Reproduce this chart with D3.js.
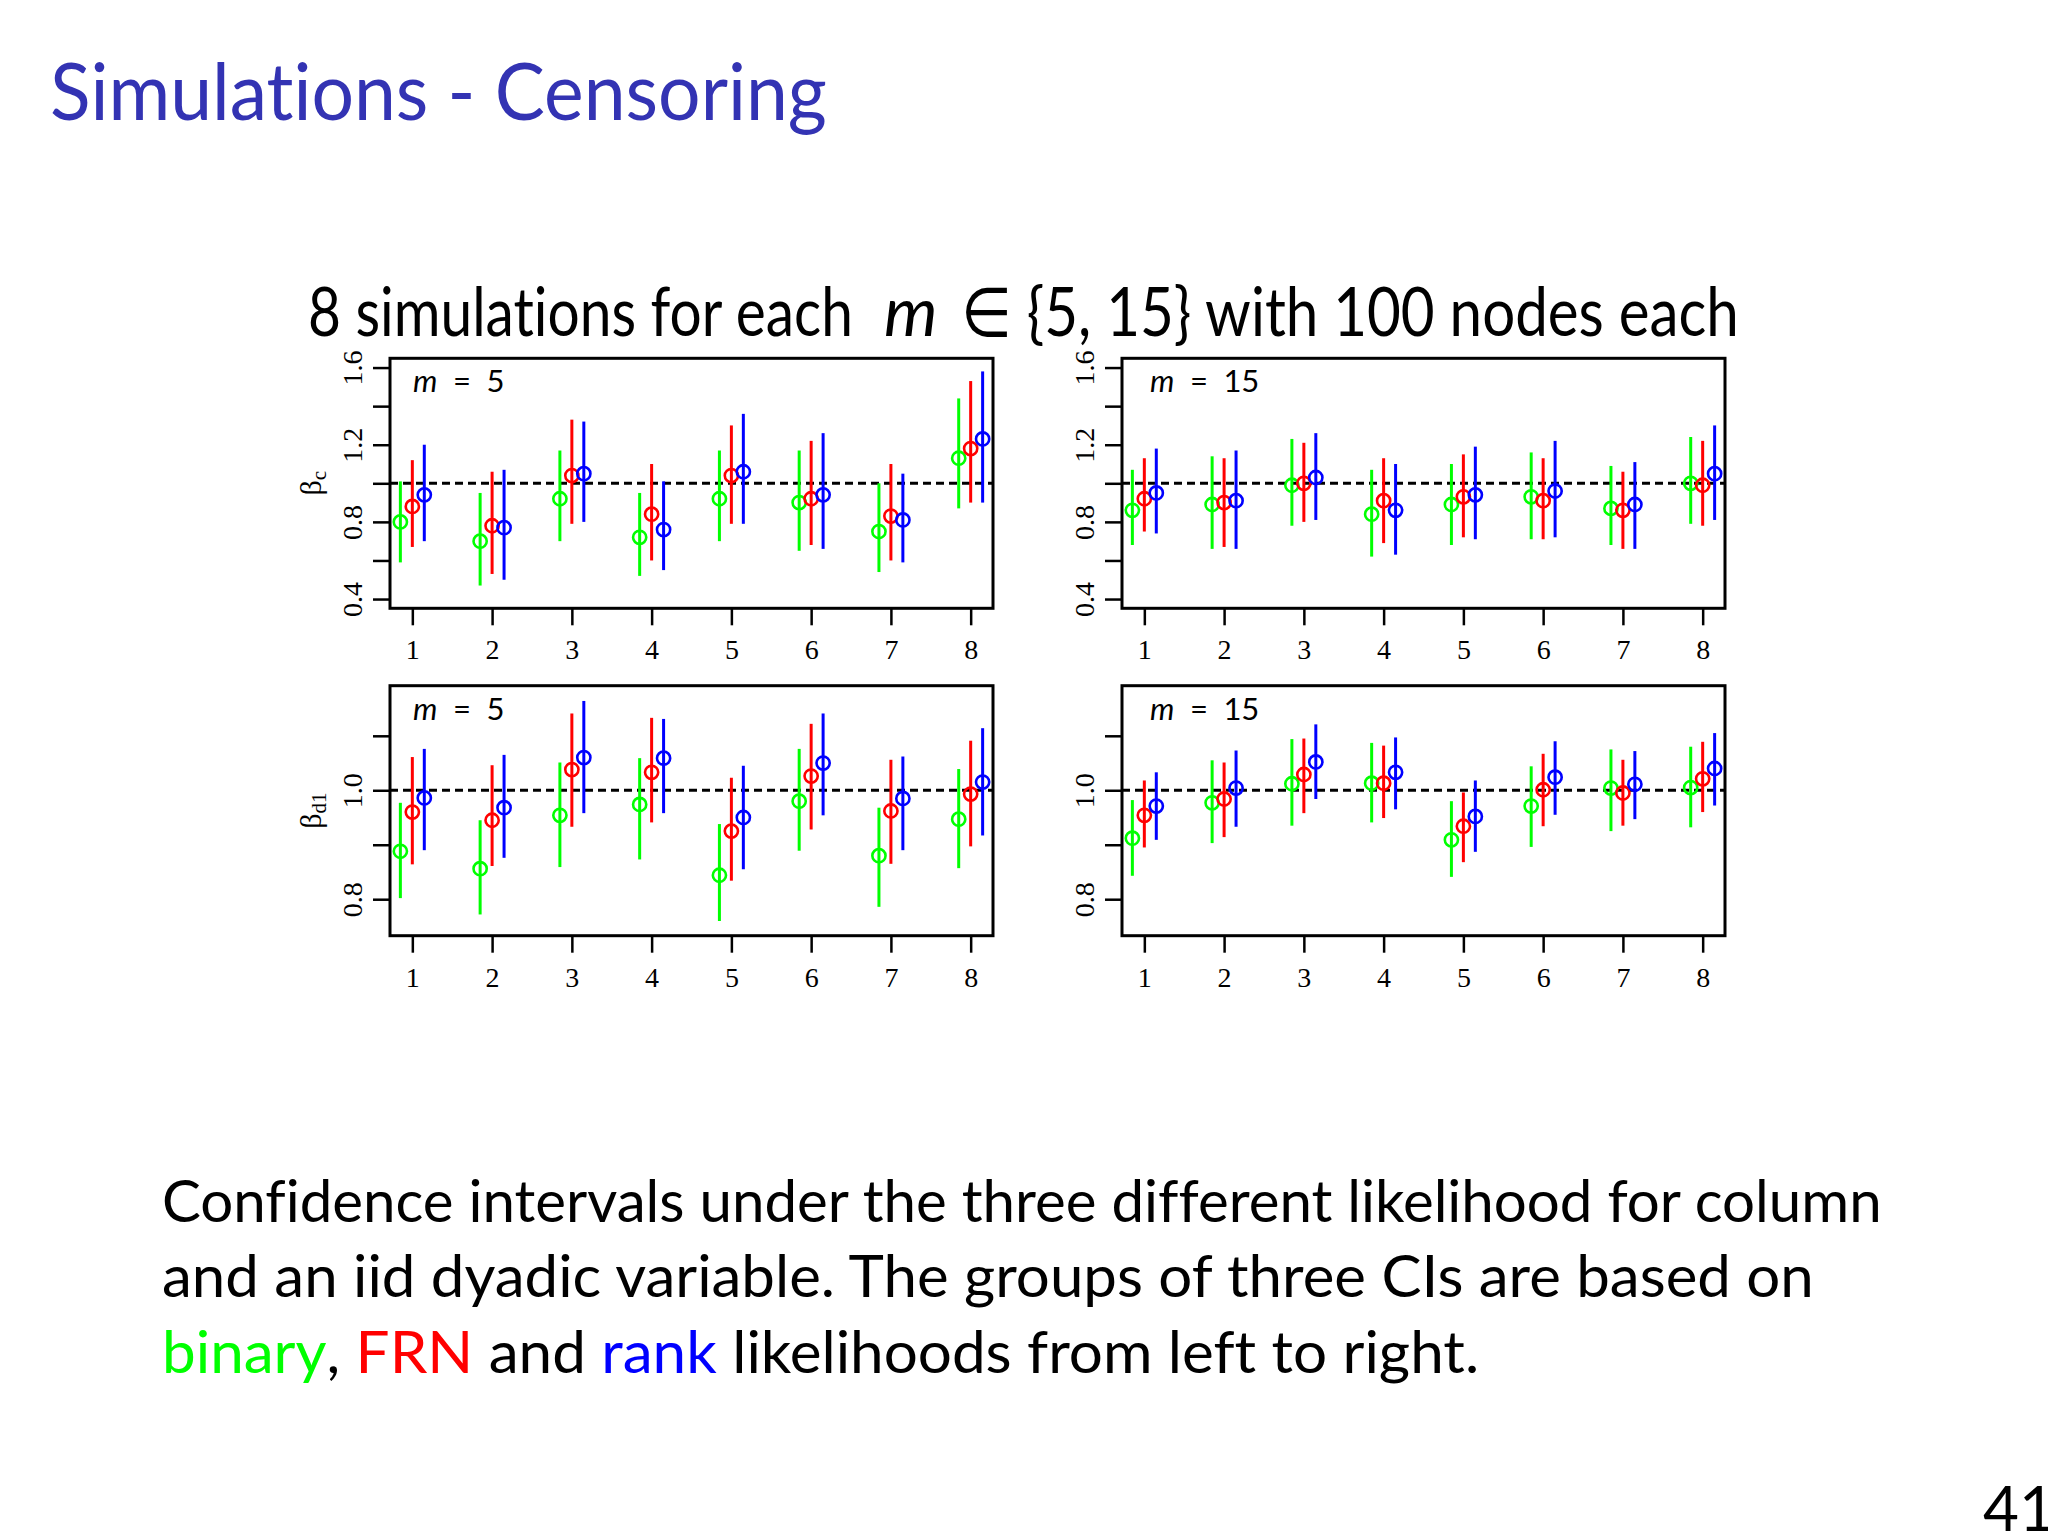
<!DOCTYPE html>
<html>
<head>
<meta charset="utf-8">
<script src="https://cdn.jsdelivr.net/npm/d3@7"></script>
<style>
    body { margin: 0; background: #fff; }
    svg { display: block; }
    .slide { font-family: Lato, "DejaVu Sans", sans-serif; font-variant-ligatures: none; font-feature-settings: "liga" 0, "dlig" 0; }
    .rtext { font-family: "Liberation Serif", "Times New Roman", serif; }
</style>
</head>
<body>
<svg id="chart" width="2048" height="1536"></svg>
<script>
// simulations on the x axis, likelihoods within each group
const simIds = [1, 2, 3, 4, 5, 6, 7, 8];
const methods = ["binary", "FRN", "rank"];
const mValues = [5, 15];

// rows = simulation, columns = binary / FRN / rank
// beta_c, m = 5
const betaC5Est = [[0.80,0.88,0.94],[0.70,0.78,0.77],[0.92,1.04,1.05],[0.72,0.84,0.76],[0.92,1.04,1.06],[0.90,0.92,0.94],[0.75,0.83,0.81],[1.13,1.18,1.23]];
const betaC5Lo  = [[0.59,0.67,0.70],[0.47,0.53,0.50],[0.70,0.79,0.80],[0.52,0.60,0.55],[0.70,0.79,0.79],[0.65,0.68,0.66],[0.54,0.60,0.59],[0.87,0.90,0.90]];
const betaC5Hi  = [[1.01,1.12,1.20],[0.95,1.06,1.07],[1.17,1.33,1.32],[0.95,1.10,1.01],[1.17,1.30,1.36],[1.17,1.22,1.26],[1.00,1.10,1.05],[1.44,1.53,1.58]];
// beta_c, m = 15
const betaC15Est = [[0.86,0.92,0.95],[0.89,0.90,0.91],[0.99,1.00,1.03],[0.84,0.91,0.86],[0.89,0.93,0.94],[0.93,0.91,0.96],[0.87,0.86,0.89],[1.00,0.99,1.05]];
const betaC15Lo  = [[0.68,0.75,0.74],[0.66,0.67,0.66],[0.78,0.80,0.81],[0.62,0.69,0.63],[0.68,0.72,0.71],[0.71,0.71,0.72],[0.68,0.66,0.66],[0.79,0.78,0.81]];
const betaC15Hi  = [[1.07,1.13,1.18],[1.14,1.13,1.17],[1.23,1.21,1.26],[1.07,1.13,1.10],[1.10,1.15,1.19],[1.16,1.13,1.22],[1.09,1.06,1.11],[1.24,1.22,1.30]];
// beta_d1, m = 5
const betaD5Est = [[0.888,0.960,0.986],[0.856,0.945,0.968],[0.954,1.038,1.060],[0.974,1.033,1.059],[0.844,0.925,0.950],[0.980,1.026,1.050],[0.880,0.962,0.985],[0.947,0.993,1.015]];
const betaD5Lo  = [[0.802,0.864,0.890],[0.772,0.861,0.876],[0.859,0.933,0.958],[0.873,0.941,0.958],[0.760,0.834,0.855],[0.889,0.928,0.954],[0.786,0.865,0.890],[0.857,0.897,0.917]];
const betaD5Hi  = [[0.977,1.061,1.076],[0.945,1.046,1.065],[1.051,1.141,1.164],[1.059,1.133,1.131],[0.938,1.023,1.045],[1.076,1.122,1.141],[0.968,1.056,1.062],[1.039,1.091,1.114]];
// beta_d1, m = 15
const betaD15Est = [[0.912,0.954,0.971],[0.977,0.984,1.004],[1.012,1.029,1.052],[1.013,1.013,1.033],[0.909,0.934,0.952],[0.971,1.001,1.024],[1.004,0.995,1.011],[1.005,1.021,1.040]];
const betaD15Lo  = [[0.843,0.895,0.909],[0.903,0.914,0.933],[0.935,0.958,0.984],[0.941,0.949,0.965],[0.841,0.868,0.887],[0.896,0.934,0.955],[0.925,0.935,0.947],[0.932,0.960,0.972]];
const betaD15Hi  = [[0.982,1.018,1.033],[1.055,1.051,1.073],[1.094,1.095,1.121],[1.087,1.082,1.097],[0.980,0.996,1.018],[1.044,1.067,1.090],[1.075,1.056,1.072],[1.080,1.089,1.105]];

// axes
const betaCLim = [0.4, 1.6];
const betaCTicks = [0.4, 0.6, 0.8, 1.0, 1.2, 1.4, 1.6];
const betaCTickLabels = ["0.4", "", "0.8", "", "1.2", "", "1.6"];
const betaDLim = [0.75, 1.175];
const betaDTicks = [0.8, 0.9, 1.0, 1.1];
const betaDTickLabels = ["0.8", "", "1.0", ""];
const simLabels = ["1", "2", "3", "4", "5", "6", "7", "8"];
const trueValue = 1.0;

const colours = ["#00ff00", "#ff0000", "#0000ff"];
const offsets = [-0.15, 0, 0.15];

const svg = d3.select("#chart");
svg.append("rect").attr("width", 2048).attr("height", 1536).attr("fill", "#fff");

// squeeze a text horizontally so it spans the wanted width
function fitWidth(sel, x, y, width) {
    const w = sel.node().getComputedTextLength();
    sel.attr("x", 0).attr("y", 0)
        .attr("transform", `translate(${x},${y}) scale(${width / w},1)`);
    return sel;
}

// slide text
fitWidth(svg.append("text").attr("class", "slide")
    .attr("font-size", 80).attr("fill", "#3333b3")
    .text("Simulations - Censoring"), 50, 120, 777);

fitWidth(svg.append("text").attr("class", "slide")
    .attr("font-size", 68).attr("fill", "#000")
    .text("8 simulations for each"), 308, 336, 545);
svg.append("text").attr("class", "slide")
    .attr("x", 884).attr("y", 336)
    .attr("font-size", 68).attr("font-style", "italic").attr("fill", "#000")
    .text("m");
fitWidth(svg.append("text").attr("class", "slide")
    .attr("font-size", 68).attr("fill", "#000")
    .text("\u2208 {" + mValues.join(", ") + "} with 100 nodes each"), 961, 336, 778);

const panels = [
    { est: betaC5Est, lo: betaC5Lo, hi: betaC5Hi, lim: betaCLim, ticks: betaCTicks, labels: betaCTickLabels, m: mValues[0], left: 390, top: 358.3, ylab: "c" },
    { est: betaC15Est, lo: betaC15Lo, hi: betaC15Hi, lim: betaCLim, ticks: betaCTicks, labels: betaCTickLabels, m: mValues[1], left: 1122, top: 358.3, ylab: null },
    { est: betaD5Est, lo: betaD5Lo, hi: betaD5Hi, lim: betaDLim, ticks: betaDTicks, labels: betaDTickLabels, m: mValues[0], left: 390, top: 685.7, ylab: "d1" },
    { est: betaD15Est, lo: betaD15Lo, hi: betaD15Hi, lim: betaDLim, ticks: betaDTicks, labels: betaDTickLabels, m: mValues[1], left: 1122, top: 685.7, ylab: null }
];
const pw = 603, ph = 250;

panels.forEach(p => {
    const g = svg.append("g").attr("transform", `translate(${p.left},${p.top})`);

    // R style 4% padding
    const xPad = (simIds[simIds.length - 1] - simIds[0]) * 0.04;
    const x = d3.scaleLinear().domain([simIds[0] - xPad, simIds[simIds.length - 1] + xPad]).range([0, pw]);
    const yPad = (p.lim[1] - p.lim[0]) * 0.04;
    const y = d3.scaleLinear().domain([p.lim[0] - yPad, p.lim[1] + yPad]).range([ph, 0]);

    // axes
    const yAxis = g.append("g").attr("class", "rtext")
        .call(d3.axisLeft(y).tickValues(p.ticks).tickSize(17).tickSizeOuter(0)
            .tickFormat((d, i) => p.labels[i]));
    yAxis.select(".domain").remove();
    yAxis.selectAll("line").attr("stroke", "#000").attr("stroke-width", 2.5);
    yAxis.selectAll("text")
        .attr("font-size", 28).attr("fill", "#000")
        .attr("text-anchor", "middle")
        .attr("x", 0).attr("y", -28).attr("dy", 0)
        .attr("transform", "rotate(-90)");

    const xAxis = g.append("g").attr("class", "rtext")
        .attr("transform", `translate(0,${ph})`)
        .call(d3.axisBottom(x).tickValues(simIds).tickSize(17).tickSizeOuter(0)
            .tickFormat((d, i) => simLabels[i]));
    xAxis.select(".domain").remove();
    xAxis.selectAll("line").attr("stroke", "#000").attr("stroke-width", 2.5);
    xAxis.selectAll("text")
        .attr("font-size", 28).attr("fill", "#000")
        .attr("y", 51).attr("dy", 0);

    // reference line
    g.append("line")
        .attr("x1", 0).attr("x2", pw)
        .attr("y1", y(trueValue)).attr("y2", y(trueValue))
        .attr("stroke", "#000").attr("stroke-width", 3)
        .attr("stroke-dasharray", "8,5");

    // confidence intervals
    methods.forEach((mth, j) => {
        const rows = simIds.map((s, i) => ({ s: s, est: p.est[i][j], lo: p.lo[i][j], hi: p.hi[i][j] }));
        const mg = g.append("g").attr("class", "ci-" + mth);
        mg.selectAll("line").data(rows).join("line")
            .attr("x1", d => x(d.s + offsets[j])).attr("x2", d => x(d.s + offsets[j]))
            .attr("y1", d => y(d.lo)).attr("y2", d => y(d.hi))
            .attr("stroke", colours[j]).attr("stroke-width", 3);
        mg.selectAll("circle").data(rows).join("circle")
            .attr("cx", d => x(d.s + offsets[j])).attr("cy", d => y(d.est))
            .attr("r", 6.6)
            .attr("fill", "none").attr("stroke", colours[j]).attr("stroke-width", 2.6);
    });

    // box
    g.append("rect").attr("width", pw).attr("height", ph)
        .attr("fill", "none").attr("stroke", "#000").attr("stroke-width", 3);

    // m label
    const ml = g.append("text").attr("class", "slide")
        .attr("x", p.ylab ? 23 : 28).attr("y", 34)
        .attr("font-size", 31).attr("fill", "#000");
    ml.append("tspan").attr("font-style", "italic").text("m");
    ml.append("tspan").text("\u2002=\u2002" + p.m);

    // y axis title
    if (p.ylab) {
        const yl = g.append("text").attr("class", "rtext")
            .attr("transform", `translate(-69,${ph / 2}) rotate(-90)`)
            .attr("text-anchor", "middle")
            .attr("font-size", 30).attr("fill", "#000");
        yl.append("tspan").text("\u03b2");
        yl.append("tspan").attr("font-size", 21).attr("dy", 5).text(p.ylab);
    }
});

// caption
const capLines = [
    [["Confidence intervals under the three different likelihood for column", "#000"]],
    [["and an iid dyadic variable. The groups of three CIs are based on", "#000"]],
    [["binary", colours[0]], [", ", "#000"], ["FRN", colours[1]], [" and ", "#000"], ["rank", colours[2]], [" likelihoods from left to right.", "#000"]]
];
const capY = [1222, 1297, 1373];
const capW = [1720, 1652, 1315];
capLines.forEach((parts, i) => {
    const t = svg.append("text").attr("class", "slide").attr("font-size", 58);
    parts.forEach(pt => t.append("tspan").attr("fill", pt[1]).text(pt[0]));
    fitWidth(t, 162, capY[i], capW[i]);
});

// page number
svg.append("text").attr("class", "slide")
    .attr("x", 1983).attr("y", 1531)
    .attr("font-size", 62).attr("fill", "#000")
    .text("41");
</script>
</body>
</html>
